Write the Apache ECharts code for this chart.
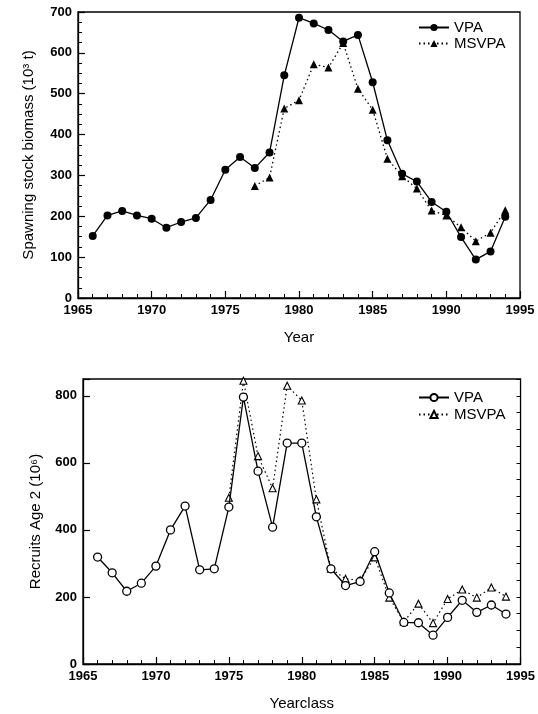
<!DOCTYPE html>
<html>
<head>
<meta charset="utf-8">
<script src="https://cdn.jsdelivr.net/npm/echarts@6/dist/echarts.min.js"></script>
<style>
  html, body { margin: 0; padding: 0; background: #fff; }
  #chart { width: 538px; height: 714px; }
</style>
</head>
<body>
<div id="chart"></div>
<script>
// Spawning stock biomass (10^3 t) by year
const ssbYearsVPA = [1966, 1967, 1968, 1969, 1970, 1971, 1972, 1973, 1974, 1975, 1976, 1977, 1978, 1979, 1980,
  1981, 1982, 1983, 1984, 1985, 1986, 1987, 1988, 1989, 1990, 1991, 1992, 1993, 1994];
const ssbVPA = [152, 202, 213, 202, 194, 172, 186, 196, 240, 314, 345, 318, 356, 545, 686,
  672, 656, 628, 644, 528, 386, 304, 285, 235, 211, 149, 94, 114, 199];
const ssbYearsMSVPA = [1977, 1978, 1979, 1980, 1981, 1982, 1983, 1984, 1985, 1986, 1987, 1988, 1989, 1990,
  1991, 1992, 1993, 1994];
const ssbMSVPA = [274, 295, 464, 484, 572, 564, 624, 512, 461, 341, 298, 268, 214, 202, 173, 139, 160, 215];

// Recruits at age 2 (10^6) by yearclass
const recYearsVPA = [1966, 1967, 1968, 1969, 1970, 1971, 1972, 1973, 1974, 1975, 1976, 1977, 1978, 1979, 1980,
  1981, 1982, 1983, 1984, 1985, 1986, 1987, 1988, 1989, 1990, 1991, 1992, 1993, 1994];
const recVPA = [319, 272, 217, 241, 292, 400, 471, 281, 284, 468, 796, 575, 408, 659, 659,
  439, 284, 234, 246, 335, 212, 124, 123, 86, 139, 190, 154, 176, 149];
const recYearsMSVPA = [1975, 1976, 1977, 1978, 1979, 1980, 1981, 1982, 1983, 1984, 1985, 1986, 1987, 1988,
  1989, 1990, 1991, 1992, 1993, 1994];
const recMSVPA = [496, 845, 620, 524, 830, 786, 491, 284, 254, 250, 318, 198, 126, 180, 122, 194, 222, 198, 228, 201];

const legendText = { ssbV: 'VPA', ssbM: 'MSVPA', recV: 'VPA', recM: 'MSVPA' };

const pairs = (xs, ys) => xs.map((x, i) => [x, ys[i]]);

const FONT = 'Liberation Sans, Arial, Helvetica, sans-serif';
const INK = '#000';

const tickLabel = { fontFamily: FONT, fontSize: 13, fontWeight: 'bold', color: INK, margin: 6 };
const titleText = { fontFamily: FONT, fontSize: 15, color: INK };
const legendTextStyle = { fontFamily: FONT, fontSize: 15, color: INK };

function xAxisCfg(gridIndex, name, gap) {
  return {
    type: 'value', gridIndex, min: 1965, max: 1995, interval: 5,
    name, nameLocation: 'middle', nameGap: gap,
    nameTextStyle: titleText,
    axisLine: { lineStyle: { color: INK, width: 1.3 } },
    axisTick: { inside: true, length: 7, lineStyle: { color: INK, width: 1.2 } },
    minorTick: { show: true, splitNumber: 5, length: 4, lineStyle: { color: INK, width: 1 } },
    axisLabel: Object.assign({}, tickLabel, { formatter: v => String(v) }),
    splitLine: { show: false }
  };
}

const chart = echarts.init(document.getElementById('chart'), null, { renderer: 'canvas' });

chart.setOption({
  backgroundColor: '#fff',
  animation: false,
  grid: [
    { left: 78, right: 18, top: 12, height: 286, show: true, borderColor: INK, borderWidth: 1.3 },
    { left: 83, right: 11, top: 379, height: 285, show: true, borderColor: INK, borderWidth: 1.3 }
  ],
  legend: [
    {
      data: ['ssbV', 'ssbM'], orient: 'vertical', left: 413, top: 15,
      itemWidth: 30, itemHeight: 9, itemGap: 1,
      formatter: n => legendText[n],
      textStyle: legendTextStyle
    },
    {
      data: ['recV', 'recM'], orient: 'vertical', left: 413, top: 385,
      itemWidth: 30, itemHeight: 9, itemGap: 2,
      formatter: n => legendText[n],
      textStyle: legendTextStyle
    }
  ],
  xAxis: [xAxisCfg(0, 'Year', 32), xAxisCfg(1, 'Yearclass', 32)],
  yAxis: [
    {
      type: 'value', gridIndex: 0, min: 0, max: 700, interval: 100,
      name: 'Spawning stock biomass (10³ t)', nameLocation: 'middle', nameGap: 42,
      nameTextStyle: titleText,
      axisLine: { lineStyle: { color: INK, width: 1.3 } },
      axisTick: { inside: true, length: 7, lineStyle: { color: INK, width: 1.2 } },
      minorTick: { show: true, splitNumber: 4, length: 4, lineStyle: { color: INK, width: 1 } },
      axisLabel: tickLabel,
      splitLine: { show: false }
    },
    {
      type: 'value', gridIndex: 1, min: 0, max: 850, interval: 200,
      name: 'Recruits Age 2 (10⁶)', nameLocation: 'middle', nameGap: 40,
      nameTextStyle: titleText,
      axisLine: { lineStyle: { color: INK, width: 1.3 } },
      axisTick: { inside: true, length: 7, lineStyle: { color: INK, width: 1.2 } },
      axisLabel: Object.assign({}, tickLabel, {
        formatter: v => (v % 200 === 0 ? String(v) : '')
      }),
      splitLine: { show: false }
    },
    {
      // short in-between ticks every 50 on the recruits axis
      type: 'value', gridIndex: 1, min: 0, max: 850, interval: 50,
      axisLine: { show: false },
      axisTick: { inside: true, length: 4, lineStyle: { color: INK, width: 1 } },
      axisLabel: { show: false },
      splitLine: { show: false }
    }
  ],
  series: [
    {
      name: 'ssbV', type: 'line', xAxisIndex: 0, yAxisIndex: 0,
      data: pairs(ssbYearsVPA, ssbVPA),
      symbol: 'circle', symbolSize: 8,
      itemStyle: { color: INK },
      lineStyle: { color: INK, width: 1.3, type: 'solid' },
      z: 3
    },
    {
      name: 'ssbM', type: 'line', xAxisIndex: 0, yAxisIndex: 0,
      data: pairs(ssbYearsMSVPA, ssbMSVPA),
      symbol: 'triangle', symbolSize: 8,
      itemStyle: { color: INK },
      lineStyle: { color: INK, width: 1.3, type: [1.5, 3] },
      z: 2
    },
    {
      name: 'recV', type: 'line', xAxisIndex: 1, yAxisIndex: 1,
      data: pairs(recYearsVPA, recVPA),
      symbol: 'circle', symbolSize: 8,
      itemStyle: { color: '#fff', borderColor: INK, borderWidth: 1.3 },
      lineStyle: { color: INK, width: 1.3, type: 'solid' },
      z: 3
    },
    {
      name: 'recM', type: 'line', xAxisIndex: 1, yAxisIndex: 1,
      data: pairs(recYearsMSVPA, recMSVPA),
      symbol: 'triangle', symbolSize: 7,
      itemStyle: { color: '#fff', borderColor: INK, borderWidth: 1.1 },
      lineStyle: { color: INK, width: 1.2, type: [1.5, 3] },
      z: 2
    }
  ]
});
</script>
</body>
</html>
